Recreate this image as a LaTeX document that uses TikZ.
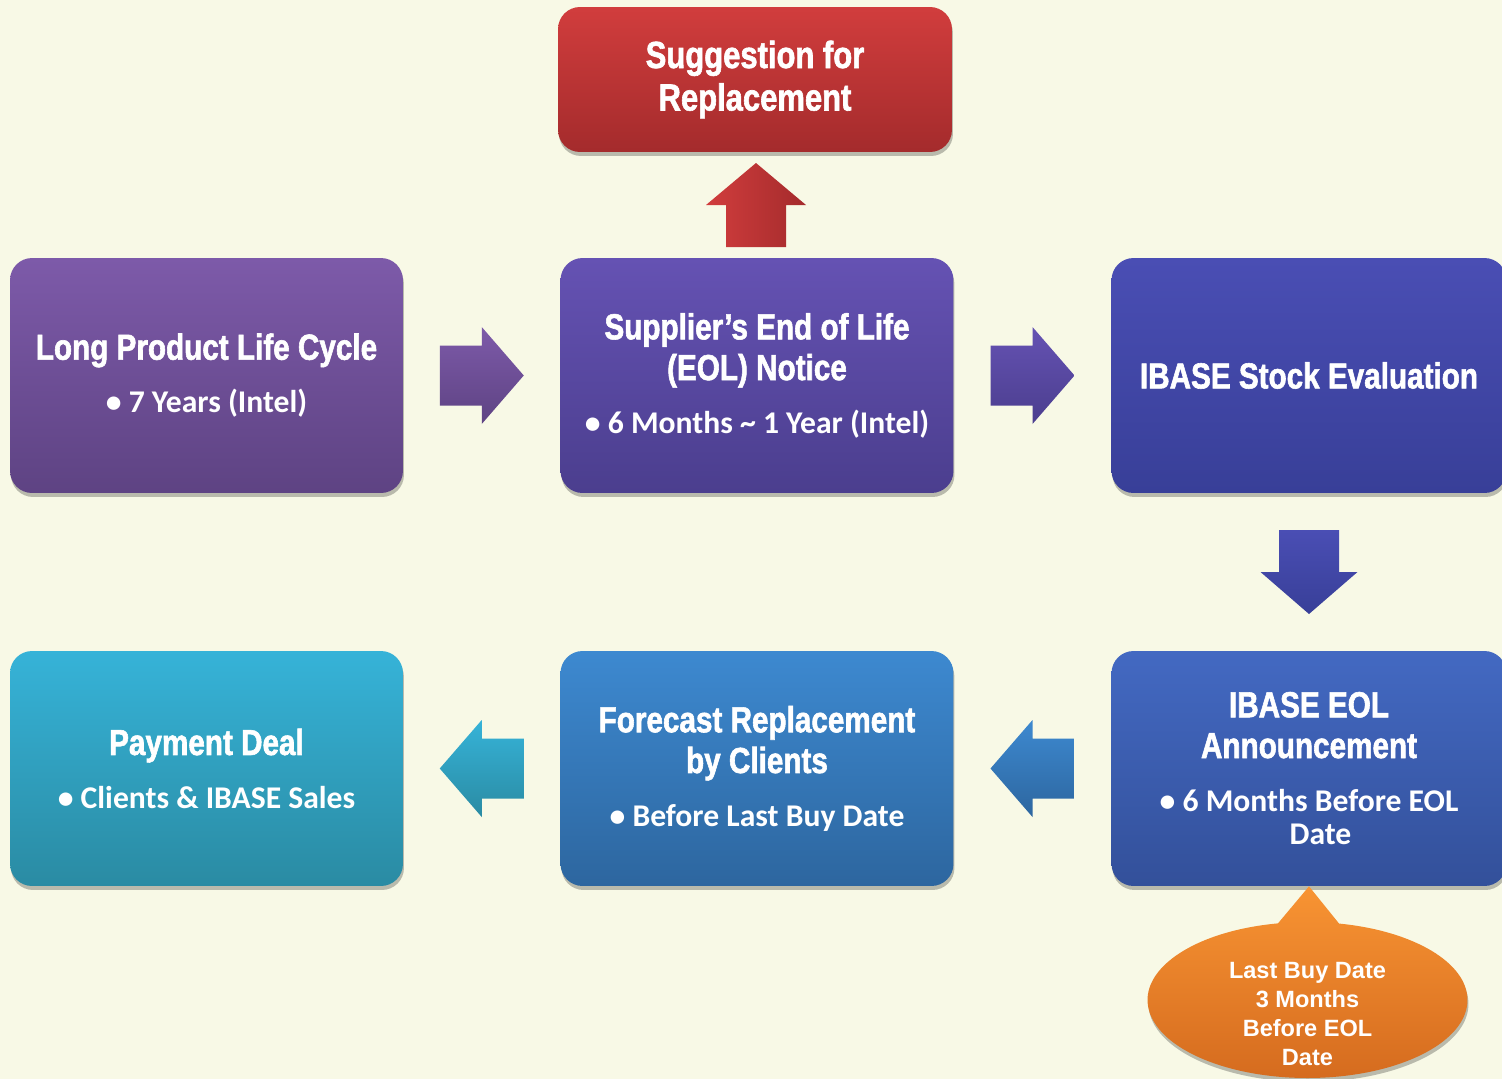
\documentclass[tikz,border=0pt]{standalone}
\usepackage{fontspec}
\setmainfont{Carlito}
\newfontfamily\ttlfont[FakeStretch=0.82,FakeBold=1.6]{Liberation Sans}
\newfontfamily\callfont{Liberation Sans}
\usetikzlibrary{shapes.callouts,shadows,calc}

\definecolor{bgcream}{HTML}{F8F9E6}
\definecolor{lifetop}{HTML}{7D5AA9}
\definecolor{lifebot}{HTML}{5E4383}
\definecolor{eoltop}{HTML}{6552B3}
\definecolor{eolbot}{HTML}{4B3E8E}
\definecolor{stocktop}{HTML}{4A4EB4}
\definecolor{stockbot}{HTML}{383F98}
\definecolor{anntop}{HTML}{4369C2}
\definecolor{annbot}{HTML}{33509A}
\definecolor{fctop}{HTML}{3D89D0}
\definecolor{fcbot}{HTML}{2D669F}
\definecolor{paytop}{HTML}{36B3D8}
\definecolor{paybot}{HTML}{2A8BA3}
\definecolor{redtop}{HTML}{D13D3D}
\definecolor{redbot}{HTML}{A42B2C}
\definecolor{orgtop}{HTML}{F89433}
\definecolor{orgbot}{HTML}{D46A1E}

\begin{document}
\begin{tikzpicture}[x=0.02cm, y=-0.02cm,
    every node/.style={align=center, text=white},
    shade/.style={drop shadow={shadow xshift=0.02cm, shadow yshift=-0.08cm, opacity=0.25, fill=black}},
    stage/.style={shade, rounded corners=0.44cm, minimum width=7.86cm, minimum height=4.7cm, inner sep=0pt,
        font=\ttlfont\bfseries\fontsize{20.6}{23.2}\selectfont},
    rarrow/.pic={\path[pic actions] (-42,-30) -- (0,-30) -- (0,-48.5) -- (42,0) -- (0,48.5) -- (0,30) -- (-42,30) -- cycle;},
    larrow/.pic={\path[pic actions] (42,-30) -- (0,-30) -- (0,-48.5) -- (-42,0) -- (0,48.5) -- (0,30) -- (42,30) -- cycle;},
    uarrow/.pic={\path[pic actions] (-30,42) -- (-30,0) -- (-50,0) -- (0,-42) -- (50,0) -- (30,0) -- (30,42) -- cycle;},
    darrow/.pic={\path[pic actions] (-30,-42) -- (-30,0) -- (-48.5,0) -- (0,42) -- (48.5,0) -- (30,0) -- (30,-42) -- cycle;}]

    % page
    \useasboundingbox (0,0) rectangle (1502,1079);
    \fill[bgcream] (0,0) rectangle (1502,1079);

    % Row 0: suggestion box
    \node[stage, minimum width=7.88cm, minimum height=2.9cm, top color=redtop, bottom color=redbot,
        font=\ttlfont\bfseries\fontsize{21.5}{24.2}\selectfont] (suggest) at (755,79.5)
        {Suggestion for\\Replacement};

    % Row 1: life cycle, supplier notice, stock evaluation
    \node[stage, top color=lifetop, bottom color=lifebot] (life) at (206.5,375.5)
        {Long Product Life Cycle\\[7pt]{\fontsize{18}{21.6}\fontspec{Carlito}• 7 Years (Intel)}};
    \node[stage, top color=eoltop, bottom color=eolbot] (eol) at (757,375.5)
        {Supplier’s End of Life\\(EOL) Notice\\[7pt]{\fontsize{18}{21.6}\fontspec{Carlito}• 6 Months \textasciitilde{} 1 Year (Intel)}};
    \node[stage, minimum width=7.9cm, top color=stocktop, bottom color=stockbot] (stock) at (1309,375.5)
        {IBASE Stock Evaluation};

    % Row 2: payment, forecast, announcement
    \node[stage, top color=paytop, bottom color=paybot] (payment) at (206.5,768.5)
        {Payment Deal\\[7pt]{\fontsize{18}{21.6}\fontspec{Carlito}• Clients \& IBASE Sales}};
    \node[stage, top color=fctop, bottom color=fcbot] (forecast) at (757,768.5)
        {Forecast Replacement\\by Clients\\[7pt]{\fontsize{18}{21.6}\fontspec{Carlito}• Before Last Buy Date}};
    \node[stage, minimum width=7.9cm, top color=anntop, bottom color=annbot] (announce) at (1309,768.5)
        {IBASE EOL\\Announcement\\[7pt]{\fontsize{18}{21.6}\fontspec{Carlito}• 6 Months Before EOL}\\[-4pt]{\fontsize{18}{21.6}\fontspec{Carlito}\phantom{• }Date}};

    % block arrows between the boxes
    \pic[shade, top color=lifetop, bottom color=lifebot] at ($(life.east)!0.5!(eol.west)$) {rarrow};
    \pic[shade, top color=eoltop, bottom color=eolbot] at ($(eol.east)!0.5!(stock.west)$) {rarrow};
    \pic[shade, left color=redtop, right color=redbot] at ($(eol.north)!0.5!(suggest.south)$) {uarrow};
    \pic[shade, top color=stocktop, bottom color=stockbot] at ($(stock.south)!0.5!(announce.north)$) {darrow};
    \pic[shade, top color=fctop, bottom color=fcbot] at ($(announce.west)!0.5!(forecast.east)$) {larrow};
    \pic[shade, top color=paytop, bottom color=paybot] at ($(forecast.west)!0.5!(payment.east)$) {larrow};

    % Last buy date callout
    \node[shade, ellipse callout, callout absolute pointer={(announce.south)}, callout pointer arc=22,
        minimum width=6.4cm, minimum height=3.12cm, top color=orgtop, bottom color=orgbot] (lastbuy) at (1307.5,1000) {};
    \node[font=\callfont\bfseries\fontsize{13.4}{16.4}\selectfont] (lastbuytext) at ([yshift=-0.28cm]lastbuy.center)
        {Last Buy Date\\3 Months\\Before EOL\\Date};
\end{tikzpicture}
\end{document}
